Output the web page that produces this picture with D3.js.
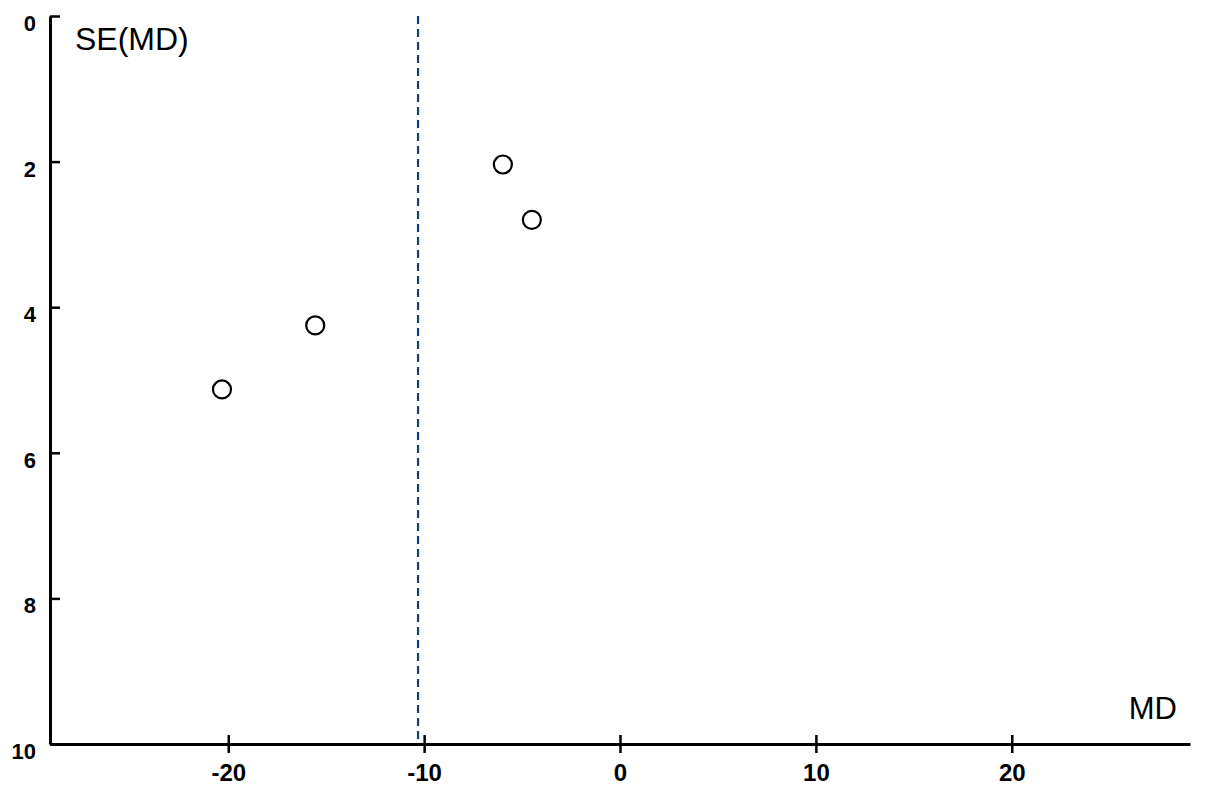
<!DOCTYPE html>
<html>
<head>
<meta charset="utf-8">
<script src="https://cdn.jsdelivr.net/npm/d3@7"></script>
<style>
  body { margin: 0; background: #fff; }
  svg { display: block; }
</style>
</head>
<body>
<div id="container"></div>
<script>
// study points (mean difference, standard error)
let md = [-5.98, -4.5, -15.56, -20.32];
let se = [2.04, 2.8, 4.25, 5.13];
// pooled estimate
let pooledMD = -10.31;
// tick labels
let xTicks = [-20, -10, 0, 10, 20];
let yTicks = [0, 2, 4, 6, 8, 10];

let width = 1205, height = 793;

let viz = d3.select("#container")
  .append("svg")
    .attr("width", width)
    .attr("height", height)
;

let x = d3.scaleLinear().domain([-29.1, 29.1]).range([50, 1190]);
let y = d3.scaleLinear().domain([0, 10]).range([16, 744]);

// dashed pooled line
viz.append("line")
    .attr("x1", x(pooledMD))
    .attr("x2", x(pooledMD))
    .attr("y1", y(0))
    .attr("y2", y(10))
    .attr("stroke", "#1a3b78")
    .attr("stroke-width", 2.2)
    .attr("stroke-dasharray", "8,5")
;

// x axis
let xAxis = viz.append("g")
    .attr("transform", "translate(0," + y(10) + ")")
    .call(d3.axisBottom(x).tickValues(xTicks).tickFormat(d => String(d))
      .tickSize(9).tickSizeOuter(0).tickPadding(11));
xAxis.select(".domain").attr("stroke", "#000").attr("stroke-width", 3);
xAxis.selectAll(".tick line")
    .attr("y1", -9)
    .attr("stroke-width", 2.5);
xAxis.selectAll(".tick text")
    .attr("font-family", "Liberation Sans, Arial, sans-serif")
    .attr("font-size", 24)
    .attr("font-weight", "bold")
    .attr("fill", "#000");

// y axis
let yAxis = viz.append("g")
    .attr("transform", "translate(" + x.range()[0] + ",0)")
    .call(d3.axisLeft(y).tickValues(yTicks).tickFormat(d => String(d))
      .tickSize(6).tickSizeOuter(0).tickPadding(8));
yAxis.select(".domain").attr("stroke", "#000").attr("stroke-width", 3);
yAxis.selectAll(".tick line")
    .attr("x2", 10)
    .attr("stroke-width", 2.5);
yAxis.selectAll(".tick text")
    .attr("font-family", "Liberation Sans, Arial, sans-serif")
    .attr("font-size", 22)
    .attr("font-weight", "bold")
    .attr("fill", "#000")
    .attr("dy", "0.66em");

// points
viz.selectAll("circle.study")
  .data(md)
  .enter()
  .append("circle")
    .attr("class", "study")
    .attr("cx", d => x(d))
    .attr("cy", (d, i) => y(se[i]))
    .attr("r", 9)
    .attr("fill", "#fff")
    .attr("stroke", "#000")
    .attr("stroke-width", 2.2)
;

// axis titles
viz.append("text")
    .text("SE(MD)")
    .attr("x", 75)
    .attr("y", 50)
    .attr("font-family", "Liberation Sans, Arial, sans-serif")
    .attr("font-size", 32)
    .attr("fill", "#000")
;
viz.append("text")
    .text("MD")
    .attr("x", 1177)
    .attr("y", 719)
    .attr("text-anchor", "end")
    .attr("font-family", "Liberation Sans, Arial, sans-serif")
    .attr("font-size", 31)
    .attr("fill", "#000")
;
</script>
</body>
</html>
